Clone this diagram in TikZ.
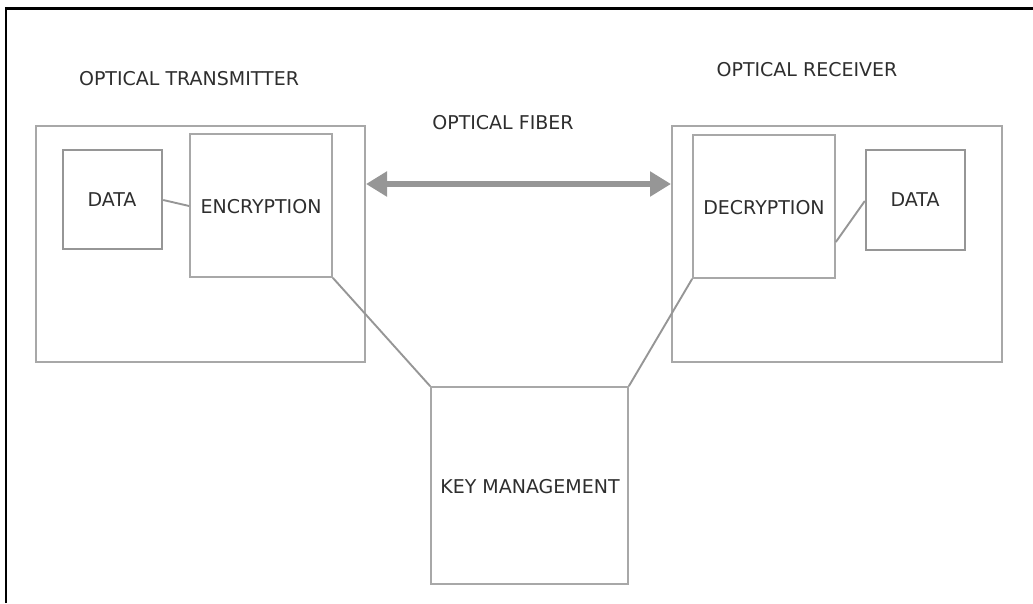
\documentclass[tikz,border=0pt]{standalone}
\usepackage{fontspec}
\setmainfont{DejaVu Sans}
\usetikzlibrary{arrows.meta}
\definecolor{linegray}{HTML}{A8A8A8}
\definecolor{datagray}{HTML}{969696}
\definecolor{txt}{HTML}{2E2E2E}
\begin{document}
\begin{tikzpicture}[x=1pt,y=-1pt,
  lbl/.style={text=txt,font=\fontsize{19}{21}\selectfont,inner sep=0pt},
  outerbox/.style={draw=linegray,line width=1.7pt},
  innerbox/.style={draw=linegray,line width=1.7pt},
  databox/.style={draw=datagray,line width=2.4pt},
  wire/.style={draw=datagray,line width=1.9pt},
  fiber/.style={draw=datagray,line width=6.5pt,
    {Triangle[length=21pt,width=24pt]}-{Triangle[length=21pt,width=24pt]}}]
  \useasboundingbox (0,0) rectangle (1033,603);
  % page frame (top and left rules)
  \draw[line width=2.6pt,black] (6,603) -- (6,8.5) -- (1033,8.5);

  % transmitter side
  \draw[outerbox] (36,126) rectangle (365,362);
  \node[lbl] (txlabel) at (189,79) {OPTICAL TRANSMITTER};
  \node[databox,minimum width=99pt,minimum height=99pt,inner sep=0pt] (dataL) at (112.5,199.5) {};
  \node[lbl] at (112,200) {DATA};
  \node[innerbox,minimum width=142pt,minimum height=143pt,inner sep=0pt] (enc) at (261,205.5) {};
  \node[lbl] at (261,207) {ENCRYPTION};

  % receiver side
  \draw[outerbox] (672,126) rectangle (1002,362);
  \node[lbl] (rxlabel) at (807,70) {OPTICAL RECEIVER};
  \node[innerbox,minimum width=142pt,minimum height=143pt,inner sep=0pt] (dec) at (764,206.5) {};
  \node[lbl] at (764,208) {DECRYPTION};
  \node[databox,minimum width=99pt,minimum height=100pt,inner sep=0pt] (dataR) at (915.5,200) {};
  \node[lbl] at (915,200) {DATA};

  % key management
  \node[innerbox,minimum width=197pt,minimum height=197pt,inner sep=0pt] (key) at (529.5,485.5) {};
  \node[lbl] at (530,487) {KEY MANAGEMENT};

  % optical fiber link
  \node[lbl] (fiberlabel) at (503,123) {OPTICAL FIBER};
  \coordinate (fibL) at (366,184);
  \coordinate (fibR) at (671,184);
  \draw[fiber] (fibL) -- (fibR);

  % connections
  \draw[wire] (dataL.east |- 0,200) -- (enc.west |- 0,206);
  \draw[wire] (dec.east |- 0,242) -- (dataR.west |- 0,201);
  \draw[wire] (enc.south east) -- (key.north west);
  \draw[wire] (key.north east) -- (dec.south west);
\end{tikzpicture}
\end{document}
